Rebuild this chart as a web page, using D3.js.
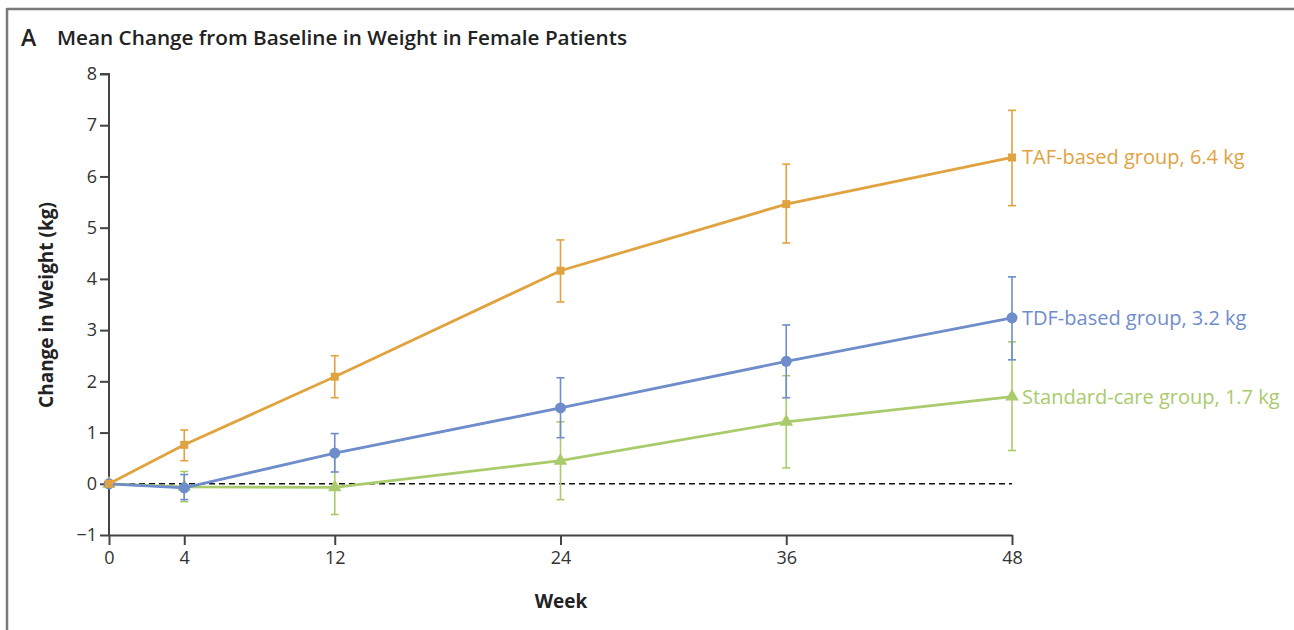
<!DOCTYPE html>
<html><head><meta charset="utf-8">
<script src="https://cdn.jsdelivr.net/npm/d3@7"></script>
<style>
body{margin:0;background:#fff;}
svg{display:block;}
text{font-family:"Open Sans","Noto Sans",sans-serif;}
</style></head>
<body><svg id="c" width="1294" height="630"></svg>
<script>
const weeks = [0, 4, 12, 24, 36, 48];
const yTicks = [-1, 0, 1, 2, 3, 4, 5, 6, 7, 8];
const seriesNames = ["Standard-care group, 1.7 kg", "TDF-based group, 3.2 kg", "TAF-based group, 6.4 kg"];
const stdMean = [0, -0.06, -0.07, 0.45, 1.21, 1.70];
const stdLow  = [0, -0.35, -0.60, -0.31, 0.31, 0.65];
const stdHigh = [0, 0.24, 0.55, 1.21, 2.11, 2.77];
const tdfMean = [0, -0.08, 0.60, 1.48, 2.39, 3.24];
const tdfLow  = [0, -0.31, 0.23, 0.90, 1.68, 2.42];
const tdfHigh = [0, 0.18, 0.98, 2.07, 3.10, 4.04];
const tafMean = [0, 0.76, 2.09, 4.16, 5.46, 6.37];
const tafLow  = [0, 0.45, 1.68, 3.55, 4.70, 5.43];
const tafHigh = [0, 1.05, 2.50, 4.76, 6.24, 7.29];
const colors = ["#A9CB6C", "#6F8DCA", "#E0A33F"];
const shapes = [d3.symbolTriangle, d3.symbolCircle, d3.symbolSquare];
const shapeSizes = [80, 95, 64];

const svg = d3.select("#c");
// frame
svg.append("line").attr("x1",7).attr("x2",1294).attr("y1",9).attr("y2",9).attr("stroke","#7a7a7a").attr("stroke-width",2.5);
svg.append("line").attr("x1",7).attr("x2",7).attr("y1",8).attr("y2",630).attr("stroke","#7a7a7a").attr("stroke-width",2.5);

svg.append("text").attr("x",21).attr("y",46).attr("font-size",23).attr("font-weight",600).attr("fill","#222").text("A");
svg.append("text").attr("x",57).attr("y",45).attr("font-size",19).attr("font-weight",600).attr("fill","#222")
  .attr("textLength",570).attr("lengthAdjust","spacingAndGlyphs")
  .text("Mean Change from Baseline in Weight in Female Patients");

const x = d3.scaleLinear().domain([0,48]).range([109,1012]);
const y = d3.scaleLinear().domain([-1,8]).range([535,74]);

const yAxis = svg.append("g").attr("transform","translate(109,0)")
  .call(d3.axisLeft(y).tickValues(yTicks).tickSize(9).tickPadding(3).tickFormat(d => d < 0 ? "\u2212" + Math.abs(d) : d));
const xAxis = svg.append("g").attr("transform","translate(0,535)")
  .call(d3.axisBottom(x).tickValues(weeks).tickSize(10).tickPadding(6).tickSizeOuter(0));
[yAxis, xAxis].forEach(g => {
  g.select(".domain").attr("stroke","#444").attr("stroke-width",2);
  g.selectAll(".tick line").attr("stroke","#444").attr("stroke-width",2);
  g.selectAll(".tick text").attr("font-size",18).attr("fill","#333").attr("font-family","'Open Sans',sans-serif");
});
yAxis.select(".domain").attr("d","M-9,74H0V535");

svg.append("text").attr("transform","translate(53,305) rotate(-90)").attr("text-anchor","middle")
  .attr("font-size",19).attr("font-weight",700).attr("fill","#222").text("Change in Weight (kg)");
svg.append("text").attr("x",561).attr("y",608).attr("text-anchor","middle")
  .attr("font-size",19).attr("font-weight",700).attr("fill","#222").text("Week");

svg.append("line").attr("x1",x(0)).attr("x2",x(48)).attr("y1",y(0)).attr("y2",y(0))
  .attr("stroke","#111").attr("stroke-width",1.5).attr("stroke-dasharray","6,4");

const all = [
  {mean:stdMean, low:stdLow, high:stdHigh},
  {mean:tdfMean, low:tdfLow, high:tdfHigh},
  {mean:tafMean, low:tafLow, high:tafHigh}
];
const line = d3.line().x((d,i)=>x(weeks[i])).y(d=>y(d));
all.forEach((s,k)=>{
  const g = svg.append("g");
  weeks.forEach((w,i)=>{
    if (i===0) return;
    g.append("line").attr("x1",x(w)).attr("x2",x(w)).attr("y1",y(s.low[i])).attr("y2",y(s.high[i]))
      .attr("stroke",colors[k]).attr("stroke-width",1.6);
    [s.low[i], s.high[i]].forEach(v=>{
      g.append("line").attr("x1",x(w)-4).attr("x2",x(w)+4).attr("y1",y(v)).attr("y2",y(v))
        .attr("stroke",colors[k]).attr("stroke-width",1.6);
    });
  });
  g.append("path").attr("d",line(s.mean)).attr("fill","none").attr("stroke",colors[k]).attr("stroke-width",2.8);
  g.selectAll("path.m").data(s.mean).join("path").attr("class","m")
    .attr("transform",(d,i)=>`translate(${x(weeks[i])},${y(d)})`)
    .attr("d",d3.symbol().type(shapes[k]).size(shapeSizes[k])).attr("fill",colors[k]);
  g.append("text").attr("x",x(48)+10).attr("y",y(s.mean[5])+7).attr("font-size",20).attr("fill",colors[k])
    .text(seriesNames[k]);
});
</script></body></html>
